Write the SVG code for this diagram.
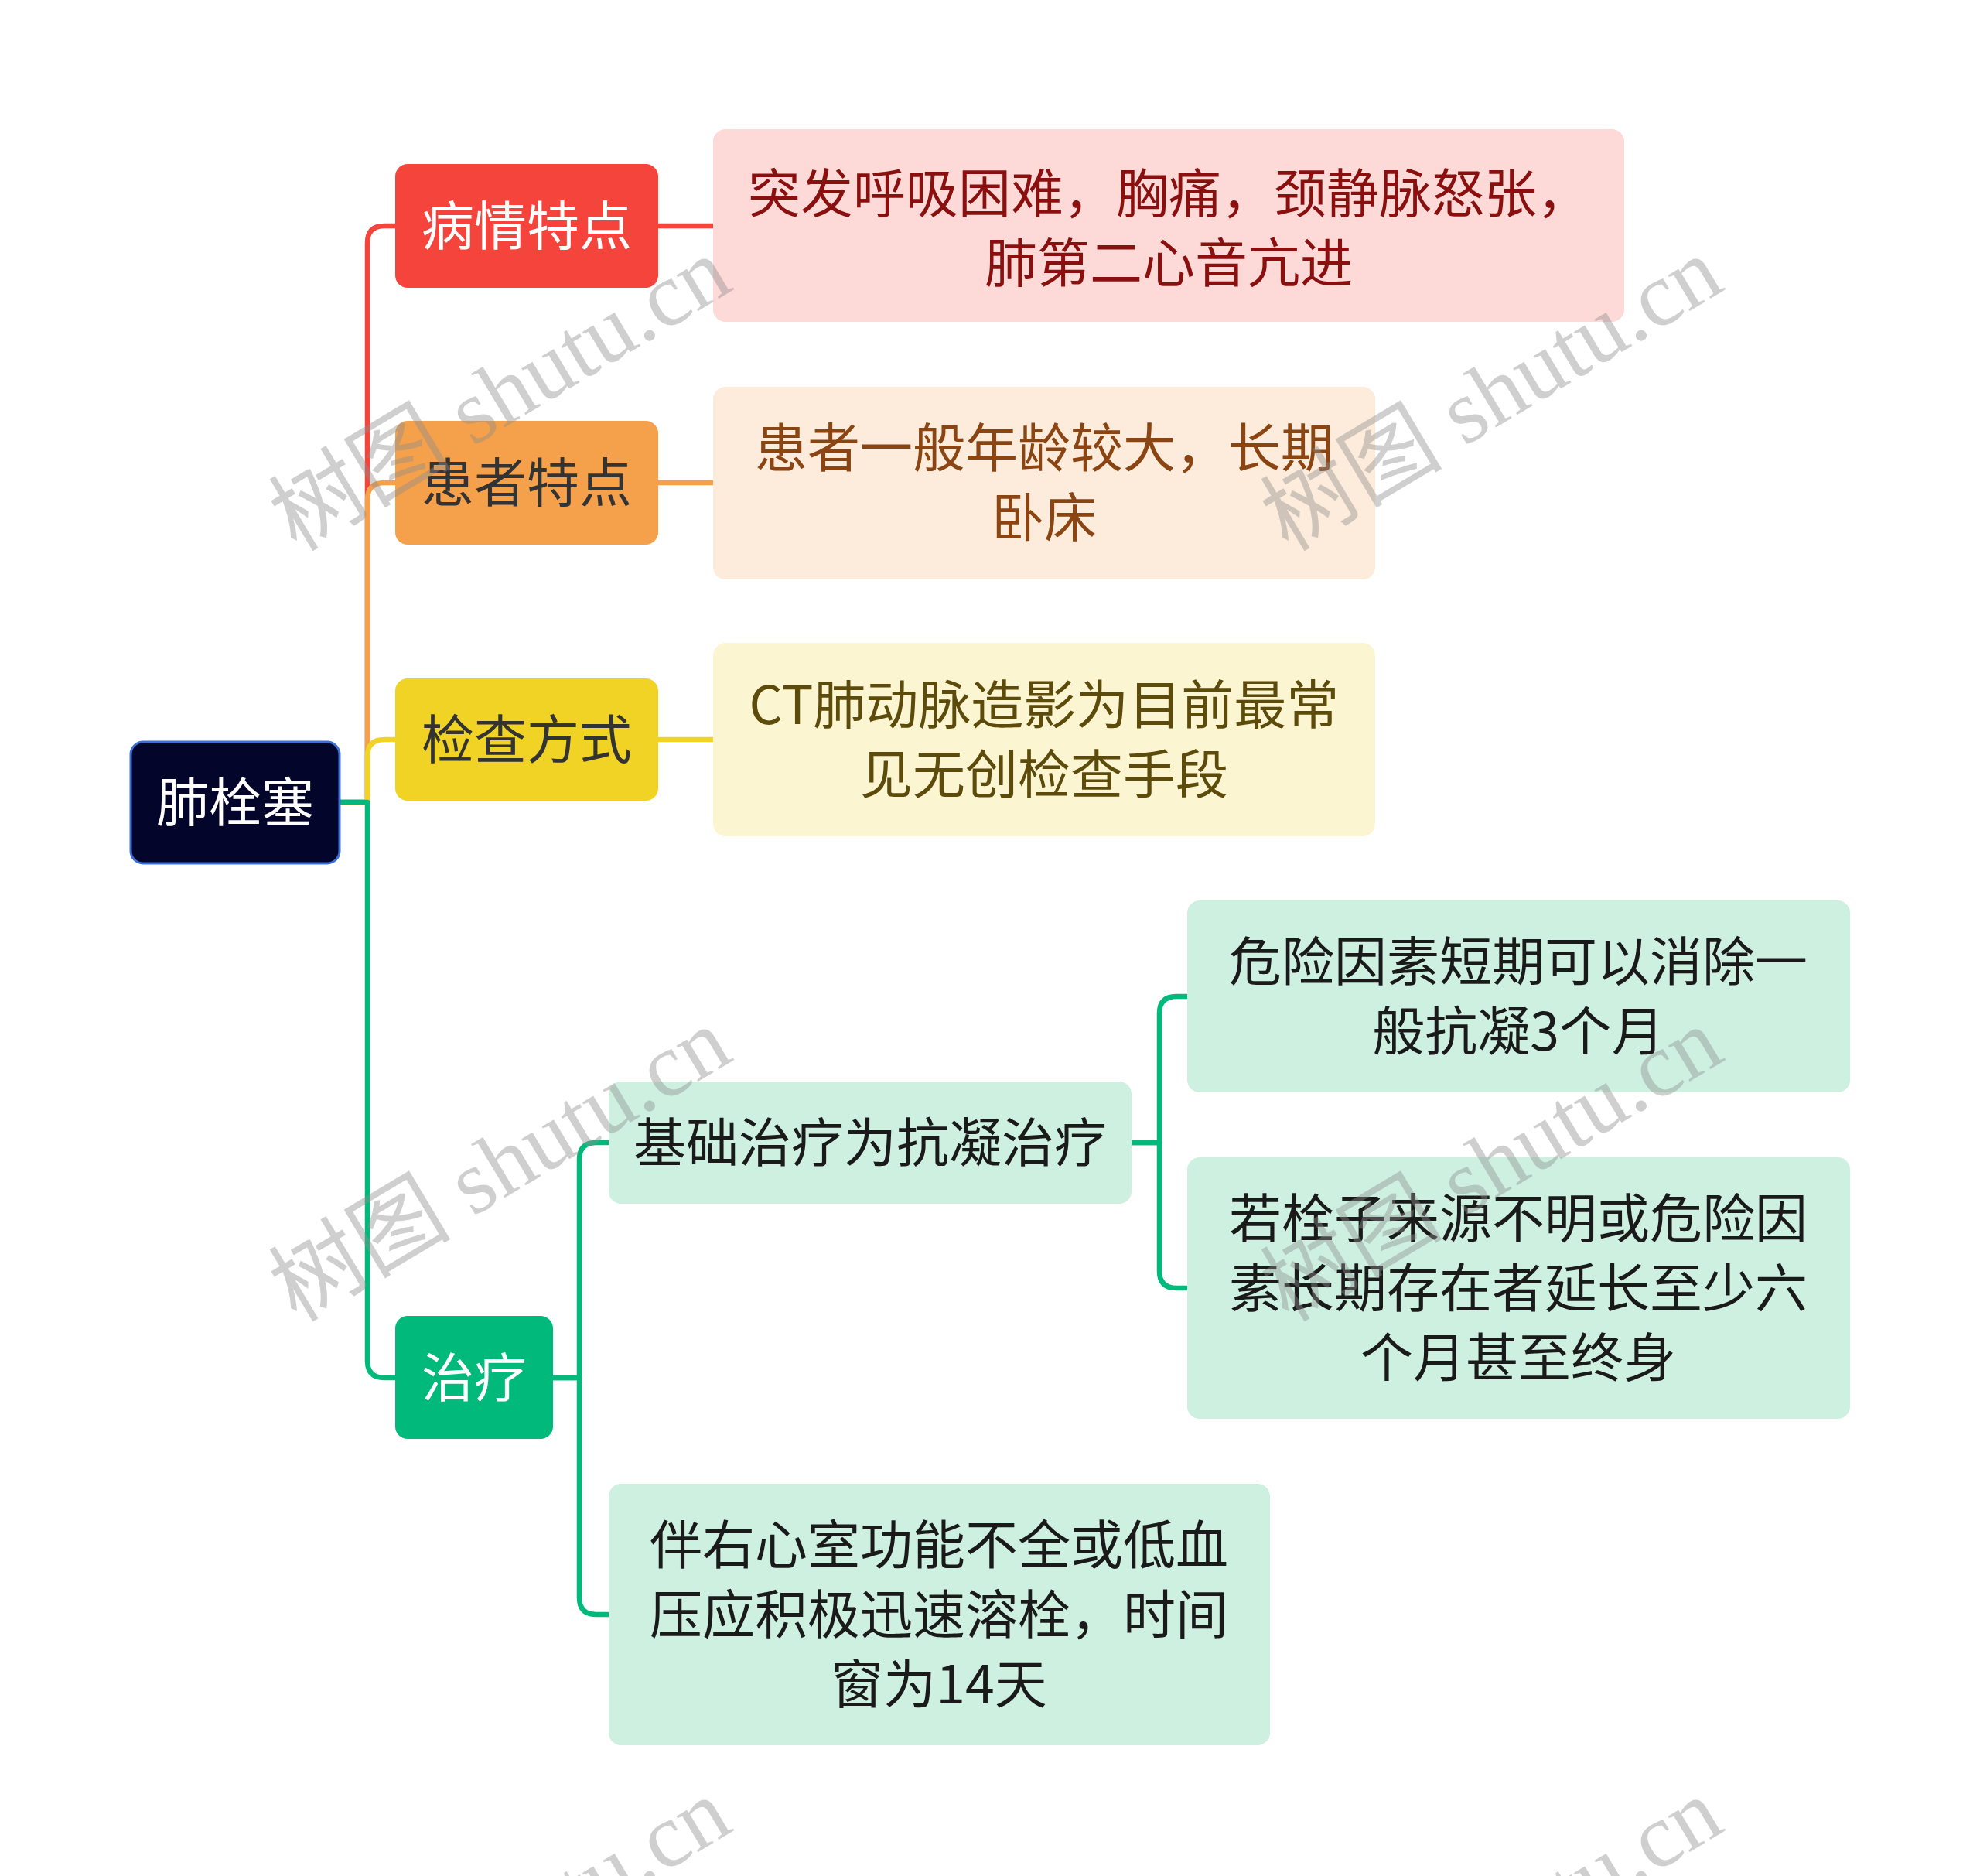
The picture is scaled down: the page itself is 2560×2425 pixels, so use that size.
<svg xmlns="http://www.w3.org/2000/svg" width="2560" height="2425" viewBox="0 0 2560 2425">
<style>
.t{font-family:"Noto Sans CJK SC","Noto Sans",sans-serif;font-size:68px;text-anchor:middle}
.c{fill:none;stroke-width:6.5;stroke-linecap:round;stroke-linejoin:round}
.wm{font-family:"Liberation Serif","Noto Sans CJK SC",serif;font-size:118px;text-anchor:middle;fill:#8f8f8f;opacity:0.42}
</style>
<rect width="2560" height="2425" fill="#ffffff"/>
<g id="connectors">
<path class="c" stroke="#f5443b" d="M439,1037 H475 V314 Q475,292 497,292 H511"/>
<path class="c" stroke="#f5443b" d="M851,292 H922"/>
<path class="c" stroke="#f5a04b" d="M439,1037 H475 V646 Q475,624 497,624 H511"/>
<path class="c" stroke="#f5a04b" d="M851,624 H922"/>
<path class="c" stroke="#f0d324" d="M439,1037 H475 V978 Q475,956 497,956 H511"/>
<path class="c" stroke="#f0d324" d="M851,956 H922"/>
<path class="c" stroke="#00b97b" d="M439,1037 H475 V1759 Q475,1781 497,1781 H511"/>
<path class="c" stroke="#00b97b" d="M715,1781 H749 V1499 Q749,1477 771,1477 H787"/>
<path class="c" stroke="#00b97b" d="M715,1781 H749 V2065 Q749,2087 771,2087 H787"/>
<path class="c" stroke="#00b97b" d="M1463,1477 H1499 V1310 Q1499,1288 1521,1288 H1535"/>
<path class="c" stroke="#00b97b" d="M1463,1477 H1499 V1643 Q1499,1665 1521,1665 H1535"/>
</g>
<g id="root">
<rect x="169" y="959" width="270" height="157" rx="16" fill="#03052a" stroke="#3a70d8" stroke-width="3"/>
<text class="t" x="304" y="1062" fill="#ffffff">肺栓塞</text>
</g>
<g id="n1">
<rect x="511" y="212" width="340" height="160" rx="16" fill="#f5443b"/>
<text class="t" x="681" y="317" fill="#ffffff">病情特点</text>
</g>
<g id="n1c">
<rect x="922" y="167" width="1178" height="249" rx="16" fill="#fdd9d7"/>
<text class="t" x="1511" y="275" fill="#8a1010">突发呼吸困难，胸痛，颈静脉怒张，</text>
<text class="t" x="1511" y="365" fill="#8a1010">肺第二心音亢进</text>
</g>
<g id="n2">
<rect x="511" y="544" width="340" height="160" rx="16" fill="#f5a04b"/>
<text class="t" x="681" y="649" fill="#333333">患者特点</text>
</g>
<g id="n2c">
<rect x="922" y="500" width="856" height="249" rx="16" fill="#fdebdb"/>
<text class="t" x="1350" y="604" fill="#8b4513">患者一般年龄较大，长期</text>
<text class="t" x="1350" y="694" fill="#8b4513">卧床</text>
</g>
<g id="n3">
<rect x="511" y="877" width="340" height="158" rx="16" fill="#f0d324"/>
<text class="t" x="681" y="981" fill="#333333">检查方式</text>
</g>
<g id="n3c">
<rect x="922" y="831" width="856" height="250" rx="16" fill="#fcf5d2"/>
<text class="t" x="1350" y="936" fill="#5c4b0b">CT肺动脉造影为目前最常</text>
<text class="t" x="1350" y="1026" fill="#5c4b0b">见无创检查手段</text>
</g>
<g id="n4">
<rect x="511" y="1701" width="204" height="159" rx="16" fill="#00b97b"/>
<text class="t" x="613" y="1806" fill="#ffffff">治疗</text>
</g>
<g id="n4a">
<rect x="787" y="1398" width="676" height="158" rx="16" fill="#cdf0e1"/>
<text class="t" x="1125" y="1502" fill="#1a1a1a">基础治疗为抗凝治疗</text>
</g>
<g id="n4a1">
<rect x="1535" y="1164" width="857" height="248" rx="16" fill="#cdf0e1"/>
<text class="t" x="1963" y="1268" fill="#1a1a1a">危险因素短期可以消除一</text>
<text class="t" x="1963" y="1358" fill="#1a1a1a">般抗凝3个月</text>
</g>
<g id="n4a2">
<rect x="1535" y="1496" width="857" height="338" rx="16" fill="#cdf0e1"/>
<text class="t" x="1963" y="1600" fill="#1a1a1a">若栓子来源不明或危险因</text>
<text class="t" x="1963" y="1690" fill="#1a1a1a">素长期存在者延长至少六</text>
<text class="t" x="1963" y="1780" fill="#1a1a1a">个月甚至终身</text>
</g>
<g id="n4b">
<rect x="787" y="1918" width="855" height="338" rx="16" fill="#cdf0e1"/>
<text class="t" x="1214" y="2022" fill="#1a1a1a">伴右心室功能不全或低血</text>
<text class="t" x="1214" y="2112" fill="#1a1a1a">压应积极迅速溶栓，时间</text>
<text class="t" x="1214" y="2202" fill="#1a1a1a">窗为14天</text>
</g>
<g id="watermarks">
<text class="wm" transform="translate(648,512) rotate(-31)" y="37">树图 shutu.cn</text>
<text class="wm" transform="translate(1930,512) rotate(-31)" y="37">树图 shutu.cn</text>
<text class="wm" transform="translate(648,1508) rotate(-31)" y="37">树图 shutu.cn</text>
<text class="wm" transform="translate(1930,1508) rotate(-31)" y="37">树图 shutu.cn</text>
<text class="wm" transform="translate(648,2504) rotate(-31)" y="37">树图 shutu.cn</text>
<text class="wm" transform="translate(1930,2504) rotate(-31)" y="37">树图 shutu.cn</text>
</g>
</svg>
